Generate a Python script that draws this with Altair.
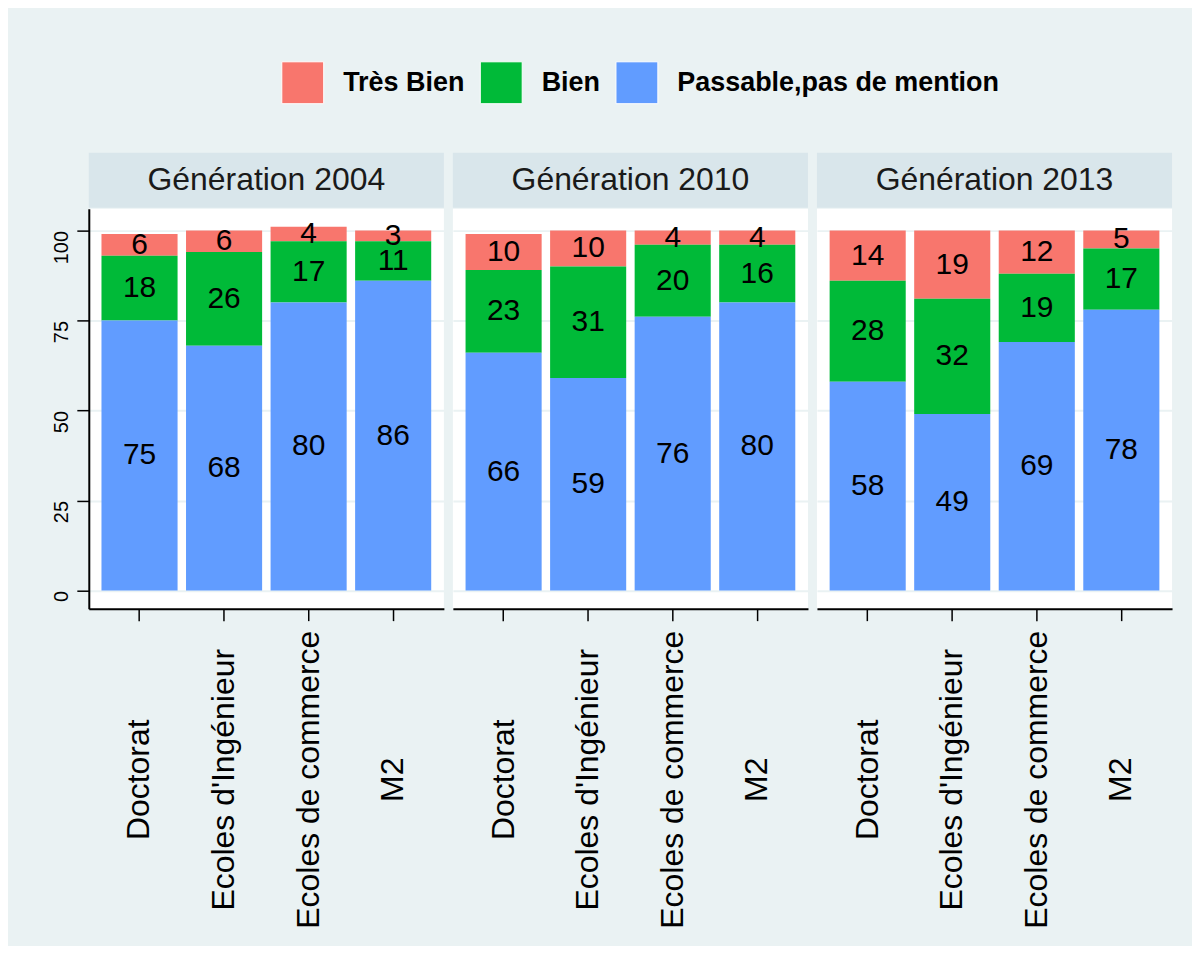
import altair as alt
import pandas as pd

generations = ["Génération 2004", "Génération 2010", "Génération 2013"]
diplomas = ["Doctorat", "Ecoles d'Ingénieur", "Ecoles de commerce", "M2"]
mentions = ["Très Bien", "Bien", "Passable,pas de mention"]
stack_rank = [2, 1, 0]  # Passable at bottom, Très Bien on top
colors = ["#F8766D", "#00BA38", "#619CFF"]

# values per generation (rows) and diploma (columns)
tres_bien = [[6, 6, 4, 3], [10, 10, 4, 4], [14, 19, 12, 5]]
bien = [[18, 26, 17, 11], [23, 31, 20, 16], [28, 32, 19, 17]]
passable = [[75, 68, 80, 86], [66, 59, 76, 80], [58, 49, 69, 78]]
y_ticks = [0, 25, 50, 75, 100]

rows = []
for gi, g in enumerate(generations):
    for di, d in enumerate(diplomas):
        for mi, vals in enumerate([tres_bien, bien, passable]):
            rows.append({"gen": g, "diploma": d, "mention": mentions[mi],
                         "rank": stack_rank[mi], "value": vals[gi][di]})
df = pd.DataFrame(rows)

FONT = "Liberation Sans"
BG = "#EAF2F3"
STRIP = "#D9E6EB"
W, H = 356, 401
STRIP_H = 55

color_scale = alt.Scale(domain=mentions, range=colors)
legend = alt.Legend(title=None, orient="none", legendX=193, legendY=-92,
                    direction="horizontal", symbolType="square", symbolSize=1764,
                    labelFontSize=27, labelFontWeight="bold", labelFont=FONT,
                    labelColor="black", symbolStrokeColor="white",
                    symbolStrokeWidth=1, symbolOpacity=1, labelOffset=19,
                    columnPadding=13, labelLimit=600)
yscale = alt.Scale(domain=[-5.05, 106.05], nice=False, zero=False)


def panel(i, g):
    base = (alt.Chart(df)
            .transform_filter(alt.datum.gen == g)
            .transform_stack(stack="value", groupby=["diploma"], as_=["y0", "y1"],
                             sort=[alt.SortField("rank", order="ascending")])
            .transform_calculate(mid="(datum.y0 + datum.y1) / 2"))
    xaxis = alt.Axis(title=None, labelAngle=270, labelAlign="center",
                     labelBaseline="middle", labelFontSize=32, labelPadding=159,
                     tickSize=12, tickColor="black", tickWidth=1.5,
                     domainColor="black", domainWidth=2, labelColor="black",
                     labelFont=FONT, grid=False, labelLimit=600)
    xenc = alt.X("diploma:N", sort=diplomas,
                 scale=alt.Scale(paddingInner=0.1, paddingOuter=0.15), axis=xaxis)
    if i == 0:
        yaxis = alt.Axis(title=None, values=y_ticks, labelAngle=270,
                         labelAlign="right", labelBaseline="alphabetic",
                         labelFontSize=20, labelPadding=9, labelFont=FONT,
                         tickSize=12, tickColor="black", tickWidth=1.5,
                         domainColor="black", domainWidth=2, labelColor="black",
                         grid=True, gridColor=BG, gridWidth=2)
    else:
        yaxis = alt.Axis(title=None, values=y_ticks, labels=False, ticks=False,
                         domain=False, grid=True, gridColor=BG, gridWidth=2)
    bars = base.mark_bar().encode(
        x=xenc,
        y=alt.Y("y0:Q", scale=yscale, axis=yaxis),
        y2="y1:Q",
        color=alt.Color("mention:N", scale=color_scale, legend=legend),
    )
    text = base.mark_text(fontSize=30, font=FONT, color="black",
                          baseline="middle").encode(
        x=alt.X("diploma:N", sort=diplomas),
        y=alt.Y("mid:Q", scale=yscale),
        text="value:Q",
    )
    return alt.layer(bars, text).properties(width=W, height=H)


def strip(g):
    return (alt.Chart(pd.DataFrame({"gen": [g]}))
            .mark_text(fontSize=32, font=FONT, color="#1a1a1a")
            .encode(text="gen:N")
            .properties(width=W, height=STRIP_H,
                        view=alt.ViewBackground(fill=STRIP, stroke=None)))


chart = (alt.concat(
    *[strip(g) for g in generations],
    *[panel(i, g) for i, g in enumerate(generations)],
    columns=3, spacing=alt.RowColnumber(row=1, column=9), bounds="flush")
    .properties(background=BG,
                padding={"left": 44, "top": 52, "right": 20, "bottom": 16})
    .configure_view(fill="white", stroke=None))

chart.save("out.html", embed_options={"renderer": "svg", "actions": False})
